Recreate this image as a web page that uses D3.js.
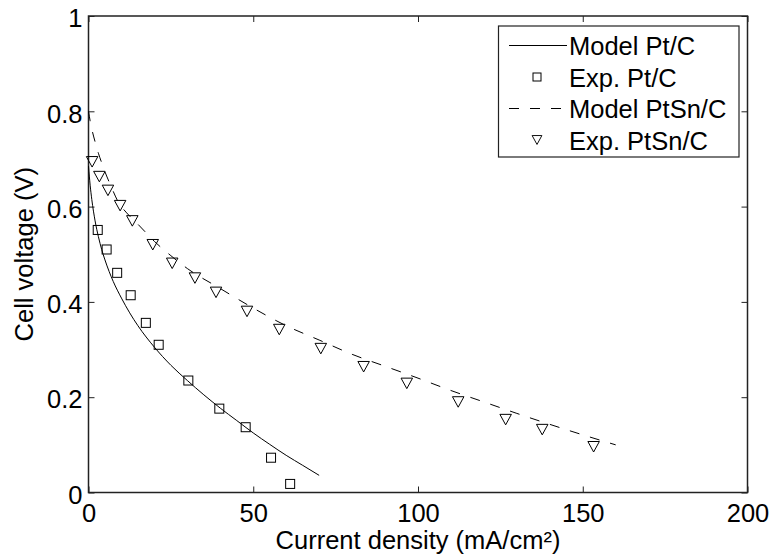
<!DOCTYPE html>
<html>
<head>
<meta charset="utf-8">
<script src="https://cdn.jsdelivr.net/npm/d3@7"></script>
<style>
  body { margin: 0; background: #fff; }
  svg { display: block; font-family: "Liberation Sans", Arial, sans-serif; }
</style>
</head>
<body>
<div id="chart"></div>
<script>
/* polarization curves, Pt/C vs PtSn/C */

// model curves
const modelPtI = [0, 0.5, 1, 2, 3, 4, 5, 7.5, 10, 12.5, 15, 20, 25, 30, 35, 40, 45, 50, 55, 60, 65, 70];
const modelPtV = [0.685, 0.645, 0.615, 0.57, 0.537, 0.51, 0.488, 0.443, 0.408, 0.377, 0.35, 0.305, 0.267, 0.235, 0.205, 0.177, 0.151, 0.125, 0.101, 0.078, 0.057, 0.036];

const modelPtSnI = [0, 0.5, 1, 2, 3, 4, 5, 6, 7.5, 9, 10, 12.5, 15, 20, 25, 30, 40, 50, 60, 70, 80, 90, 100, 110, 120, 130, 140, 150, 160];
const modelPtSnV = [0.80, 0.78, 0.763, 0.736, 0.712, 0.692, 0.673, 0.656, 0.632, 0.61, 0.60, 0.58, 0.563, 0.527, 0.497, 0.47, 0.428, 0.387, 0.35, 0.32, 0.29, 0.265, 0.24, 0.214, 0.19, 0.166, 0.143, 0.121, 0.10];

// experimental points
const expPtI = [2.8, 5.5, 8.7, 12.8, 17.4, 21.3, 30.3, 39.7, 47.7, 55.4, 61.2];
const expPtV = [0.551, 0.510, 0.461, 0.414, 0.356, 0.310, 0.235, 0.176, 0.137, 0.073, 0.018];

const expPtSnI = [1.1, 3.3, 5.9, 9.6, 13.3, 19.5, 25.4, 32.3, 38.7, 48.1, 57.9, 70.5, 83.5, 96.6, 112.2, 126.6, 137.7, 153.3];
const expPtSnV = [0.694, 0.663, 0.634, 0.602, 0.570, 0.520, 0.481, 0.450, 0.420, 0.380, 0.342, 0.302, 0.264, 0.229, 0.190, 0.153, 0.132, 0.096];

const xTicks = [0, 50, 100, 150, 200];
const yTicks = [0, 0.2, 0.4, 0.6, 0.8, 1];
const legendLabels = ["Model Pt/C", "Exp. Pt/C", "Model PtSn/C", "Exp. PtSn/C"];

const height = 556,
    width = 771,
    margin = ({ top: 16, right: 23.5, bottom: 63.5, left: 88.5 });

const fontSize = 25.5;
const ink = "#000";

const svg = d3.select("#chart")
    .append("svg")
    .attr("width", width)
    .attr("height", height);

let x = d3.scaleLinear()
    .domain([0, 200])
    .range([margin.left, width - margin.right]);

let y = d3.scaleLinear()
    .domain([0, 1])
    .range([height - margin.bottom, margin.top]);

// ticks point inward, on all four sides
function styleAxis(g) {
    g.select(".domain").remove();
    g.selectAll(".tick line").attr("stroke", "#222");
    g.selectAll(".tick text").attr("fill", ink).attr("font-size", fontSize);
}

svg.append("g")
    .attr("transform", `translate(0,${height - margin.bottom})`)
    .call(d3.axisBottom(x).tickValues(xTicks).tickSizeInner(-6).tickSizeOuter(0).tickPadding(11.5))
    .call(styleAxis)
    .attr("font-family", null);

svg.append("g")
    .attr("transform", `translate(0,${margin.top})`)
    .call(d3.axisTop(x).tickValues(xTicks).tickSizeInner(-6).tickSizeOuter(0).tickFormat(""))
    .call(styleAxis);

svg.append("g")
    .attr("transform", `translate(${margin.left},0)`)
    .call(d3.axisLeft(y).tickValues(yTicks).tickSizeInner(-6).tickSizeOuter(0).tickPadding(6)
        .tickFormat(d => d3.format("")(+d.toFixed(1))))
    .call(styleAxis)
    .attr("font-family", null)
    .selectAll(".tick text").attr("dy", "0.42em");

svg.append("g")
    .attr("transform", `translate(${width - margin.right},0)`)
    .call(d3.axisRight(y).tickValues(yTicks).tickSizeInner(-6).tickSizeOuter(0).tickFormat(""))
    .call(styleAxis);

// box
svg.append("rect")
    .attr("x", margin.left)
    .attr("y", margin.top)
    .attr("width", width - margin.left - margin.right)
    .attr("height", height - margin.top - margin.bottom)
    .attr("fill", "none")
    .attr("stroke", "#222")
    .attr("stroke-width", 1.5);

// axis labels
svg.append("text")
    .attr("x", (margin.left + width - margin.right) / 2)
    .attr("y", 549)
    .attr("text-anchor", "middle")
    .attr("font-size", fontSize)
    .attr("fill", ink)
    .text("Current density (mA/cm²)");

svg.append("text")
    .attr("transform", `translate(33,${(margin.top + height - margin.bottom) / 2}) rotate(-90)`)
    .attr("text-anchor", "middle")
    .attr("font-size", fontSize)
    .attr("fill", ink)
    .text("Cell voltage (V)");

let line = d3.line()
    .x(d => x(d[0]))
    .y(d => y(d[1]))
    .curve(d3.curveMonotoneX);

const dash = "10,11";

svg.append("path")
    .datum(d3.zip(modelPtI, modelPtV))
    .attr("d", line)
    .attr("fill", "none")
    .attr("stroke", ink)
    .attr("stroke-width", 1);

svg.append("path")
    .datum(d3.zip(modelPtSnI, modelPtSnV))
    .attr("d", line)
    .attr("fill", "none")
    .attr("stroke", ink)
    .attr("stroke-width", 1)
    .attr("stroke-dasharray", dash);

// markers
const sq = 9;
const triW = 11.5, triH = 10.5;
const triPath = `M${-triW / 2},${-triH / 2}L${triW / 2},${-triH / 2}L0,${triH / 2}Z`;

svg.append("g")
    .selectAll("rect")
    .data(d3.zip(expPtI, expPtV))
    .join("rect")
    .attr("x", d => x(d[0]) - sq / 2)
    .attr("y", d => y(d[1]) - sq / 2)
    .attr("width", sq)
    .attr("height", sq)
    .attr("fill", "none")
    .attr("stroke", ink)
    .attr("stroke-width", 1);

svg.append("g")
    .selectAll("path")
    .data(d3.zip(expPtSnI, expPtSnV))
    .join("path")
    .attr("transform", d => `translate(${x(d[0])},${y(d[1])})`)
    .attr("d", triPath)
    .attr("fill", "none")
    .attr("stroke", ink)
    .attr("stroke-width", 1);

// legend
const lg = svg.append("g").attr("transform", "translate(498.5,26)");

lg.append("rect")
    .attr("width", 240.5)
    .attr("height", 131)
    .attr("fill", "#fff")
    .attr("stroke", "#222")
    .attr("stroke-width", 1.2);

const rowY = i => 19.5 + i * 31.5;

legendLabels.forEach((label, i) => {
    const row = lg.append("g").attr("transform", `translate(0,${rowY(i)})`);
    if (i === 0 || i === 2) {
        row.append("line")
            .attr("x1", 10.5).attr("x2", 68.5)
            .attr("stroke", ink).attr("stroke-width", 1)
            .attr("stroke-dasharray", i === 2 ? dash : null);
    } else if (i === 1) {
        row.append("rect")
            .attr("x", 38.5 - 4).attr("y", -4)
            .attr("width", 8).attr("height", 8)
            .attr("fill", "none").attr("stroke", ink).attr("stroke-width", 1);
    } else {
        row.append("path")
            .attr("transform", "translate(38.5,0) scale(0.85)")
            .attr("d", triPath)
            .attr("fill", "none").attr("stroke", ink).attr("stroke-width", 1.1);
    }
    row.append("text")
        .attr("x", 70.5)
        .attr("y", 9.5)
        .attr("font-size", fontSize)
        .attr("fill", ink)
        .text(label);
});
</script>
</body>
</html>
